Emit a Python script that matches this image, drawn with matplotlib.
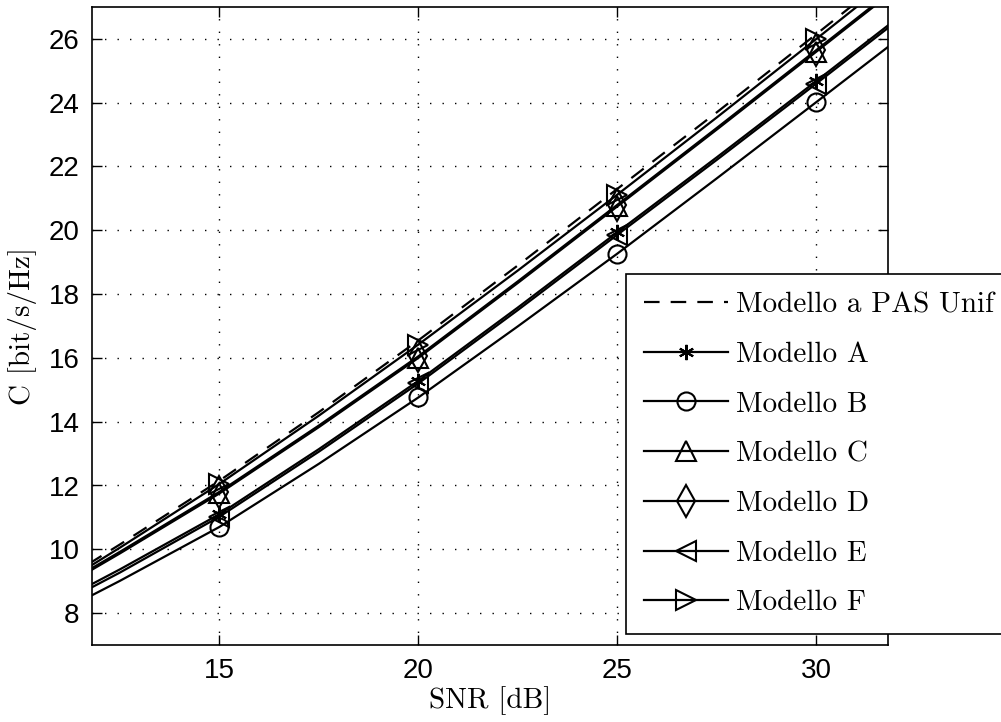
import matplotlib
matplotlib.use("Agg")
import matplotlib.pyplot as plt

# capacity curves vs SNR for the different channel models
snr = [10, 12.5, 15, 17.5, 20, 22.5, 25, 27.5, 30, 32.5]

cap_unif = [8.21, 10.15, 12.15, 14.30, 16.55, 18.90, 21.30, 23.70, 26.15, 28.63]
cap_A = [7.73, 9.37, 11.10, 13.14, 15.28, 17.58, 19.94, 22.29, 24.68, 27.10]
cap_B = [7.40, 9.01, 10.70, 12.68, 14.76, 16.99, 19.27, 21.63, 24.02, 26.42]
cap_C = [8.05, 9.87, 11.75, 13.83, 16.00, 18.35, 20.75, 23.16, 25.60, 28.05]
cap_D = [8.10, 9.92, 11.80, 13.88, 16.05, 18.40, 20.80, 23.21, 25.65, 28.10]
cap_E = [7.63, 9.27, 11.02, 13.06, 15.20, 17.50, 19.86, 22.21, 24.60, 27.02]
cap_F = [8.11, 10.05, 12.05, 14.19, 16.42, 18.74, 21.12, 23.54, 26.00, 28.48]

labels = ["Modello a PAS Unif", "Modello A", "Modello B", "Modello C",
          "Modello D", "Modello E", "Modello F"]

xticks = [15, 20, 25, 30]
yticks = [8, 10, 12, 14, 16, 18, 20, 22, 24, 26]

fig = plt.figure(figsize=(10.01, 7.22), dpi=100)
ax = fig.add_axes([92 / 1001, 1 - 645 / 722, (888 - 92) / 1001, (645 - 7) / 722])

marks = [2, 4, 6, 8]
lw = 1.6
mk = dict(color="black", lw=lw, markevery=marks, markerfacecolor="none",
          markeredgecolor="black", markeredgewidth=1.5)

ax.plot(snr, cap_unif, color="black", lw=lw, dashes=(7, 5), label=labels[0])
ax.plot(snr, cap_A, marker=(6, 2, 0), markersize=11, label=labels[1], **mk)
ax.plot(snr, cap_B, marker="o", markersize=13, label=labels[2], **mk)
ax.plot(snr, cap_C, marker="^", markersize=14, label=labels[3], **mk)
ax.plot(snr, cap_D, marker="d", markersize=16, label=labels[4], **mk)
ax.plot(snr, cap_E, marker="<", markersize=14, label=labels[5], **mk)
ax.plot(snr, cap_F, marker=">", markersize=14, label=labels[6], **mk)

ax.set_xlim(11.8, 31.8)
ax.set_ylim(7, 27)
ax.set_xticks(xticks)
ax.set_yticks(yticks)
ax.tick_params(direction="in", length=7, width=1, top=True, right=True,
               labelsize=20, pad=9)
for lab in ax.get_xticklabels() + ax.get_yticklabels():
    lab.set_fontfamily("Liberation Sans")
for sp in ax.spines.values():
    sp.set_linewidth(1.2)

ax.grid(True, color="black", linestyle=(0, (1, 8)), linewidth=1)

ax.set_xlabel("SNR [dB]", fontfamily="cmr10", fontsize=21, labelpad=2)
ax.set_ylabel("C [bit/s/Hz]", fontfamily="cmr10", fontsize=21, labelpad=8)

leg = ax.legend(loc="lower left", bbox_to_anchor=(626 / 1001, 1 - 634 / 722),
                bbox_transform=fig.transFigure, borderaxespad=0,
                prop={"family": "cmr10", "size": 21}, fancybox=False,
                framealpha=1, edgecolor="black", handlelength=2.9,
                handletextpad=0.27, labelspacing=0.8, borderpad=0.6)
leg.get_frame().set_linewidth(1.2)

fig.savefig("out.png", dpi=100)
